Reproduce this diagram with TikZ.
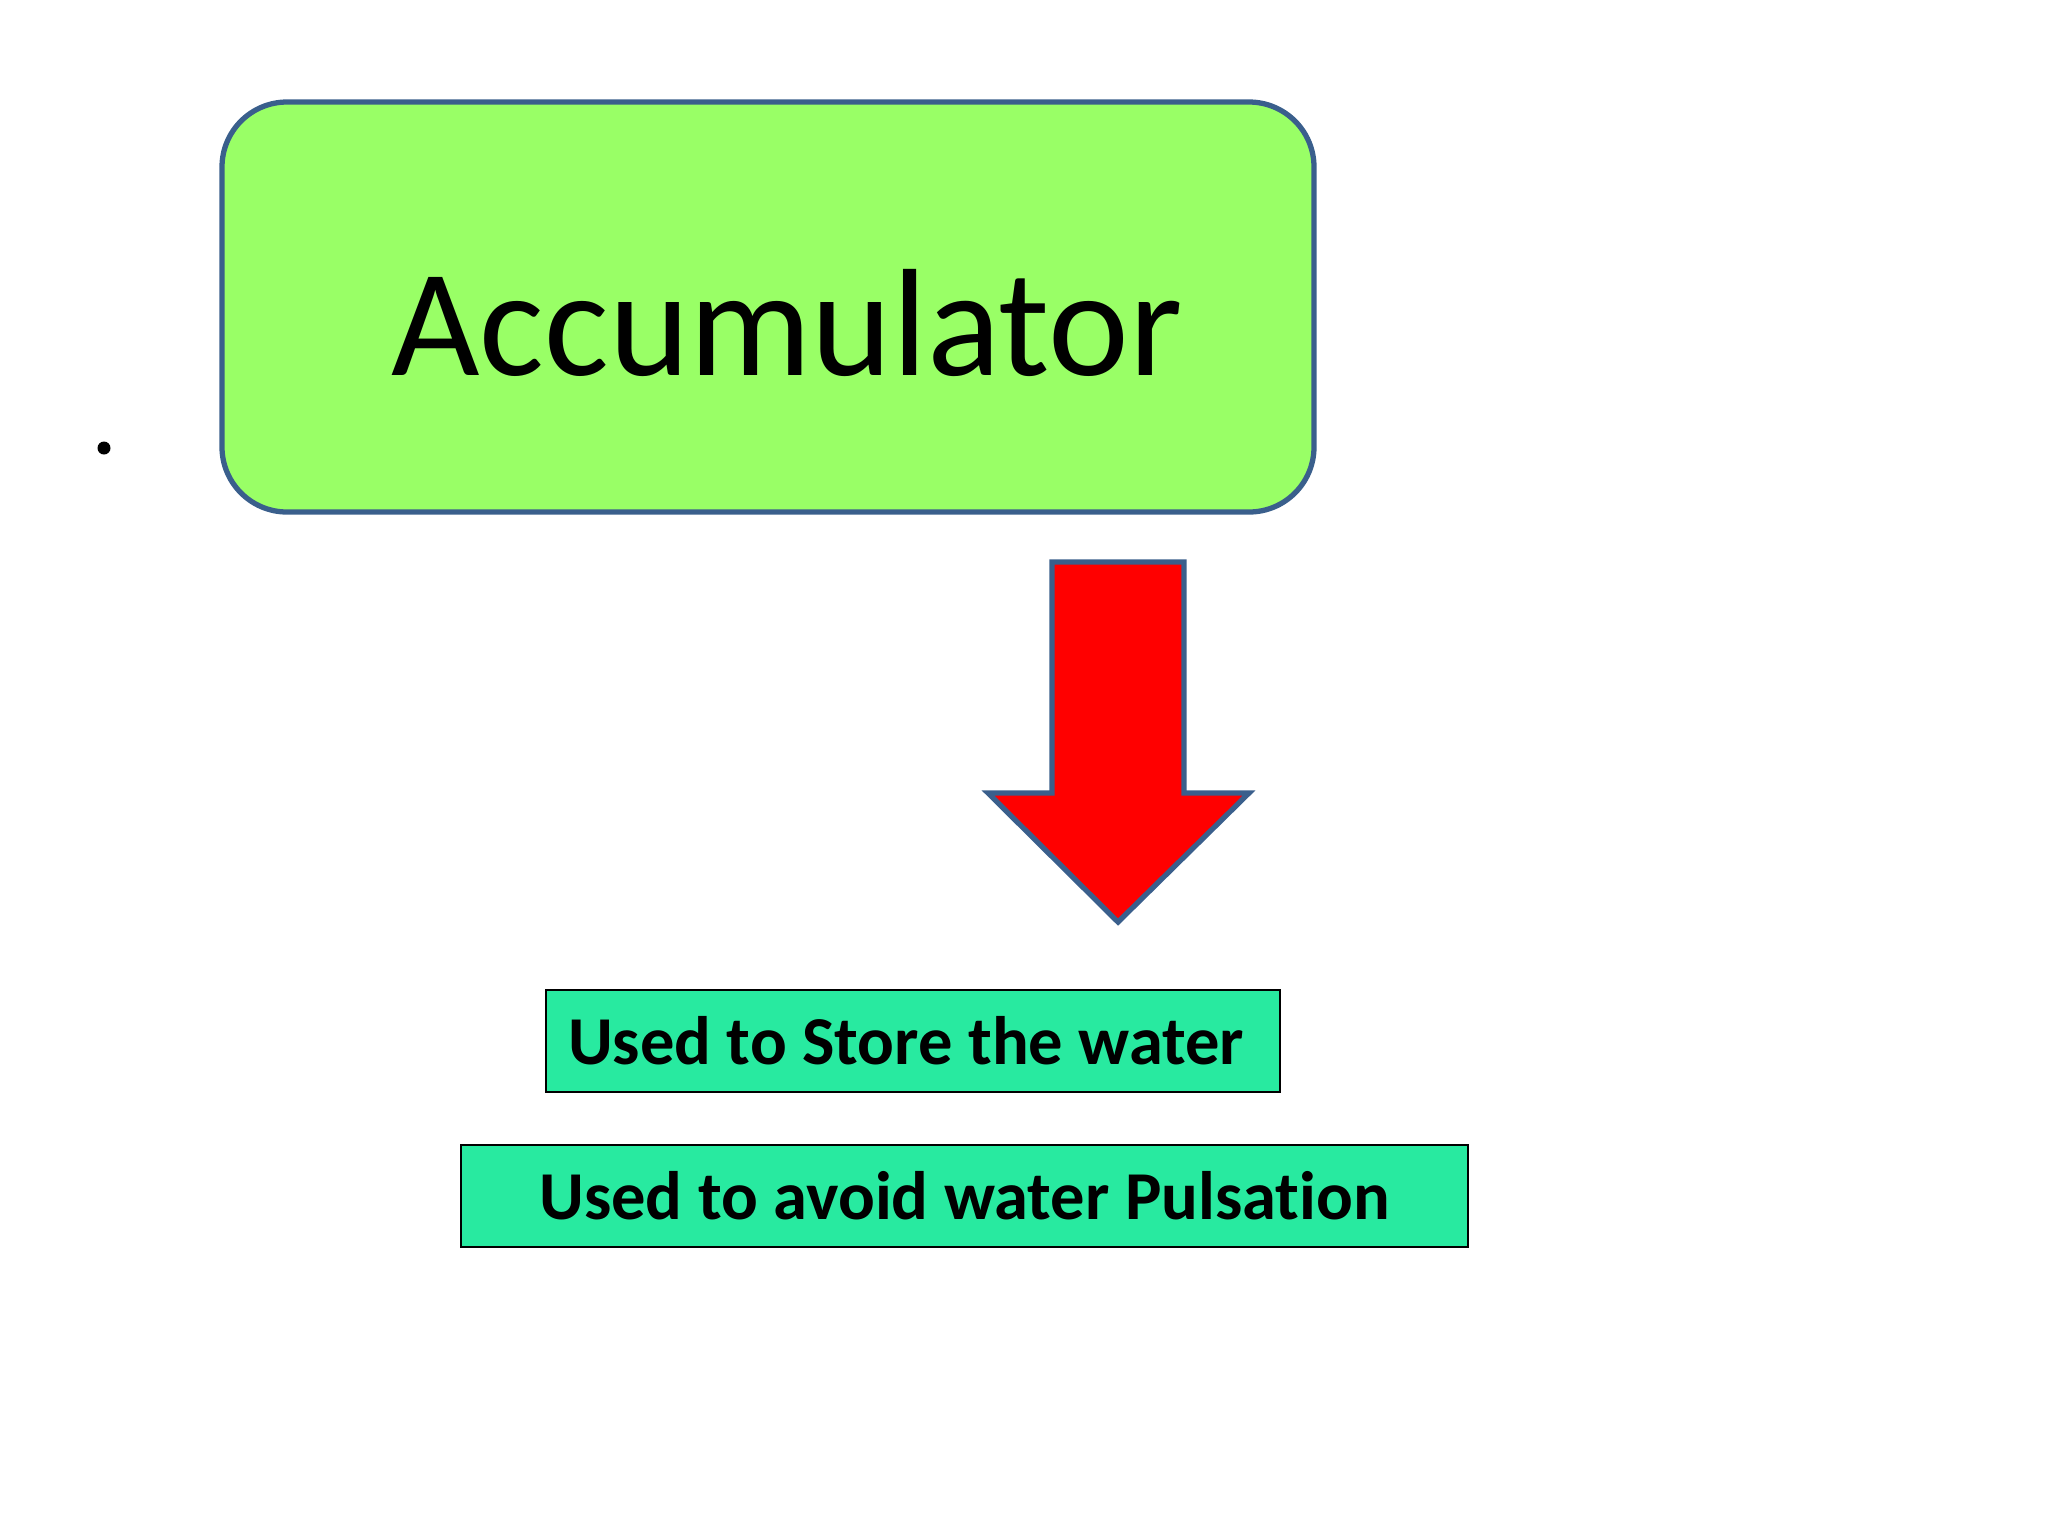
\documentclass[tikz,border=0pt]{standalone}
\usepackage{fontspec}
\setmainfont{Carlito}[Ligatures=NoCommon]
\usepackage{tikz}
\usetikzlibrary{positioning}

\definecolor{boxgreen}{HTML}{99FF66}
\definecolor{edgeblue}{HTML}{3A5F8C}
\definecolor{mint}{HTML}{28EAA0}

\begin{document}
\begin{tikzpicture}[x=0.1mm, y=-0.1mm,
	titlebox/.style={draw=edgeblue, line width=1.5pt, fill=boxgreen, rounded corners=6.5mm,
		minimum width=109.2mm, minimum height=41mm, inner sep=0pt},
	usebox/.style={draw=black, line width=0.6pt, fill=mint, inner ysep=0pt,
		minimum height=10.2mm, font=\bfseries\fontsize{19.5}{23}\selectfont}]
	\useasboundingbox (0,0) rectangle (2048,1536);
	\fill (104,448) circle (6.5);
	\node[titlebox] (accum) at (768,307) {};
	\node[font=\fontsize{43.5}{50}\selectfont, xscale=1] (accumtext) at ([shift={(19,16)}]accum.center) {Accumulator};
	% block arrow
	\draw[draw=edgeblue, line width=1.5pt, fill=red] (1052,562) -- (1184,562) -- (1184,793) -- (1249,793)
		-- (1118,922) -- (988,793) -- (1052,793) -- cycle;
	\node[usebox, inner xsep=2.2mm] (store) at (913,1041) {\makebox[69mm][l]{Used to Store the water}};
	\node[usebox, minimum width=100.7mm, below=5.1mm of store, xshift=5.15mm] (pulse) {Used to avoid water Pulsation};
\end{tikzpicture}
\end{document}
